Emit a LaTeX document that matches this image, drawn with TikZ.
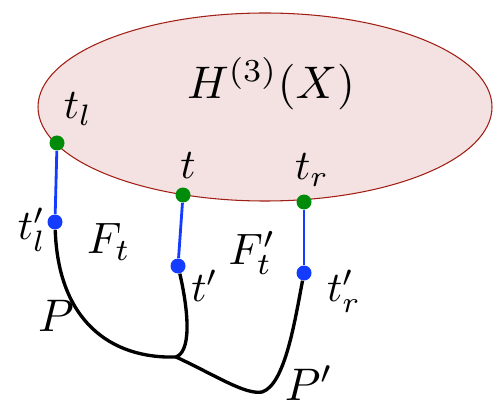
\documentclass[tikz,border=0pt]{standalone}
\usepackage{amsmath,amssymb}
\usepackage{tikz}
\usetikzlibrary{
    arrows.meta,
    positioning,
    calc
}
\definecolor{ringfill}{RGB}{244,225,225}
\definecolor{ringline}{RGB}{160,30,20}
\definecolor{ptgreen}{RGB}{0,140,10}
\definecolor{ptblue}{RGB}{20,60,255}

\begin{document}
\begin{tikzpicture}[x=0.02cm,y=-0.02cm,
    dotg/.style={circle,fill=ptgreen,inner sep=0pt,minimum size=15*0.02cm},
    dotb/.style={circle,fill=ptblue,inner sep=0pt,minimum size=15*0.02cm},
    lab/.style={scale=2.4,inner sep=0pt},
    fiblab/.style={scale=2.5,inner sep=0pt},
    pathlab/.style={scale=2.6,inner sep=0pt},
    fib/.style={ptblue,line width=1.6pt},
    wire/.style={black,line width=1.9pt}]
  \useasboundingbox (0,0) rectangle (502,408);
  \draw[ringline,fill=ringfill,line width=0.6pt] (265,107) ellipse [x radius=227,y radius=94];
  \node[pathlab] (hx) at (271,84) {$H^{(3)}(X)$};
  \node[dotg] (tl) at (57,143) {};
  \node[dotg] (t)  at (183,195) {};
  \node[dotg] (tr) at (304,202) {};
  \node[dotb] (tlp) at (55,222) {};
  \node[dotb] (tp)  at (178,266) {};
  \node[dotb] (trp) at (304,273) {};
  \coordinate (j) at (176,357);
  \coordinate (pb) at (262,392);
  \draw[fib] (tl) -- (tlp);
  \draw[fib] (t) -- (tp);
  \draw[fib] (tr) -- (trp);
  \draw[wire] (tlp) .. controls (58,320) and (110,359) .. (j);
  \draw[wire] (tp) .. controls (186,300) and (194,350) .. (j);
  \draw[wire] (j) .. controls (215,375) and (245,395) .. (pb)
      .. controls (285,385) and (295,320) .. (trp);
  \node[lab] (ltl) at (78,109) {$t_l$};
  \node[lab] (lt) at (188,166) {$t$};
  \node[lab] (ltr) at (312,170) {$t_r$};
  \node[lab] (ltlp) at (32,230) {$t_l'$};
  \node[lab] (ltp) at (205,286) {$t'$};
  \node[lab] (ltrp) at (344,291) {$t_r'$};
  \node[fiblab] (lf) at (109,242) {$F_t$};
  \node[fiblab] (lfp) at (252,253) {$F_t'$};
  \node[pathlab] (lp) at (56,316) {$P$};
  \node[pathlab] (lpp) at (309,383) {$P'$};
\end{tikzpicture}
\end{document}
